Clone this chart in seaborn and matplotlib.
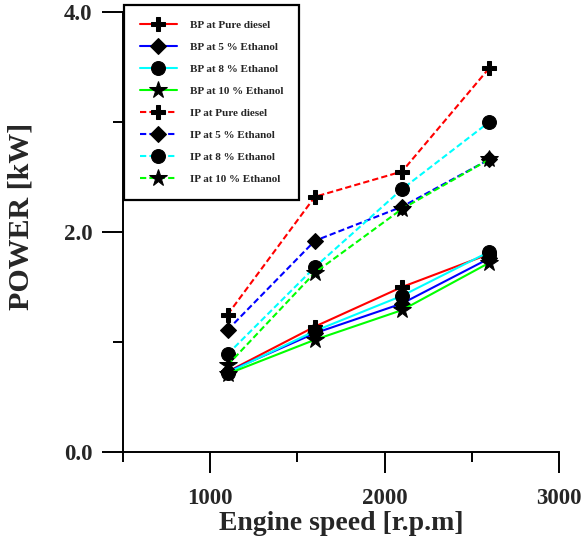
import matplotlib
matplotlib.use("Agg")
import matplotlib.pyplot as plt
from matplotlib.ticker import MultipleLocator, FixedLocator, FormatStrFormatter
import seaborn as sns
import pandas as pd

speed = [1100, 1600, 2100, 2600]
bp_pure = [0.73, 1.14, 1.50, 1.80]
bp_e5 = [0.73, 1.08, 1.35, 1.76]
bp_e8 = [0.72, 1.10, 1.42, 1.82]
bp_e10 = [0.71, 1.02, 1.29, 1.72]
ip_pure = [1.25, 2.32, 2.55, 3.49]
ip_e5 = [1.11, 1.92, 2.23, 2.66]
ip_e8 = [0.89, 1.68, 2.39, 3.00]
ip_e10 = [0.79, 1.63, 2.21, 2.66]

labels = ["BP at Pure diesel", "BP at 5 % Ethanol", "BP at 8 % Ethanol", "BP at 10 % Ethanol",
          "IP at Pure diesel", "IP at 5 % Ethanol", "IP at 8 % Ethanol", "IP at 10 % Ethanol"]
series = [bp_pure, bp_e5, bp_e8, bp_e10, ip_pure, ip_e5, ip_e8, ip_e10]
colors = ["#ff0000", "#0000ff", "#00ffff", "#00ff00"] * 2
markers = ["P", "D", "o", "*"] * 2
msizes = [10, 8, 10, 13] * 2

rows = []
for lab, vals in zip(labels, series):
    for s, v in zip(speed, vals):
        rows.append({"speed": s, "power": v, "series": lab})
df = pd.DataFrame(rows)

sns.set_theme(style="ticks")
plt.rcParams["font.family"] = ["Liberation Serif", "DejaVu Serif"]
plt.rcParams["font.weight"] = "bold"

fig = plt.figure(figsize=(5.82, 5.44), dpi=100)
ax = fig.add_axes([123 / 582, 1 - 452 / 544, (559 - 123) / 582, (452 - 12) / 544])

for i, lab in enumerate(labels):
    sub = df[df["series"] == lab]
    ls = "-" if i < 4 else (0, (3, 1.5))
    sns.lineplot(data=sub, x="speed", y="power", ax=ax, color=colors[i],
                 marker=markers[i], markersize=msizes[i], markerfacecolor="black",
                 markeredgecolor="black", linewidth=1.5, linestyle=ls, label=lab,
                 estimator=None, sort=False)

ax.set_xlim(500, 3000)
ax.set_ylim(0, 4.0)
ax.xaxis.set_major_locator(FixedLocator([1000, 2000, 3000]))
ax.xaxis.set_minor_locator(FixedLocator([500, 1500, 2500]))
ax.yaxis.set_major_locator(MultipleLocator(2.0))
ax.yaxis.set_minor_locator(MultipleLocator(1.0))
ax.yaxis.set_major_formatter(FormatStrFormatter("%.1f"))
for s in ["top", "right"]:
    ax.spines[s].set_visible(False)
for s in ["left", "bottom"]:
    ax.spines[s].set_linewidth(1.4)
    ax.spines[s].set_color("black")
ax.tick_params(which="major", direction="out", length=15, width=1.4, color="black",
               labelsize=16.5, pad=7)
ax.tick_params(which="minor", direction="out", length=7.5, width=1.4, color="black")
ax.tick_params(axis="x", which="major", pad=11)
for t in ax.get_xticklabels() + ax.get_yticklabels():
    t.set_fontweight("bold")
ax.set_xlabel("Engine speed [r.p.m]", fontsize=20, fontweight="bold", labelpad=1)
ax.set_ylabel("POWER [kW]", fontsize=21.5, fontweight="bold", labelpad=10)
ax.yaxis.set_label_coords(-0.202, 0.535)

leg = ax.legend(loc="upper left", bbox_to_anchor=(124 / 582, 1 - 5 / 544),
                bbox_transform=fig.transFigure, frameon=True, fancybox=False,
                prop={"family": "Liberation Serif", "weight": "bold", "size": 8},
                labelspacing=1.1, handlelength=3.4, handletextpad=1.1,
                borderpad=1.4, borderaxespad=0)
leg.get_frame().set_edgecolor("black")
leg.get_frame().set_linewidth(1.6)
leg.get_frame().set_alpha(1)

fig.savefig("out.png", dpi=100)
